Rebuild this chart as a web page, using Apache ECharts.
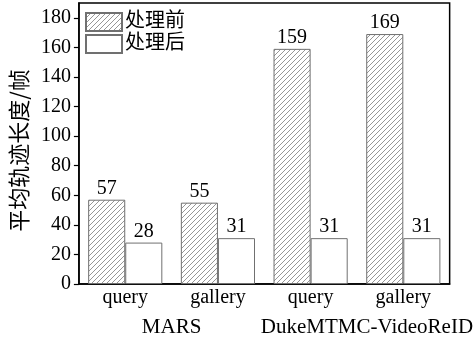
<!DOCTYPE html>
<html>
<head>
<meta charset="utf-8">
<script src="https://cdn.jsdelivr.net/npm/echarts@6/dist/echarts.min.js"></script>
<style>
  html, body { margin: 0; padding: 0; background: #fff; }
  #chart { width: 474px; height: 338px; }
</style>
</head>
<body>
<div id="chart"></div>
<script>
// Average trajectory length per dataset split, before and after processing
const categories = ['query', 'gallery', 'query', 'gallery'];
const groups = ['MARS', 'DukeMTMC-VideoReID'];
const before = [57, 55, 159, 169];
const after = [28, 31, 31, 31];
const seriesNames = ['处理前', '处理后'];
const yTicks = [0, 20, 40, 60, 80, 100, 120, 140, 160, 180];

const FONT = '"Liberation Serif", "Noto Sans CJK SC", serif';

// diagonal hatch tile
function hatchTile() {
  const s = 5;
  const c = document.createElement('canvas');
  c.width = s; c.height = s;
  const g = c.getContext('2d');
  g.fillStyle = '#fff';
  g.fillRect(0, 0, s, s);
  g.strokeStyle = '#8a8a8a';
  g.lineWidth = 0.9;
  g.beginPath();
  g.moveTo(-1, s + 1); g.lineTo(s + 1, -1);
  g.moveTo(-1, 1); g.lineTo(1, -1);
  g.moveTo(s - 1, s + 1); g.lineTo(s + 1, s - 1);
  g.stroke();
  return c;
}

const chart = echarts.init(document.getElementById('chart'));
const labelStyle = { show: true, position: 'top', distance: 1, fontSize: 20, color: '#000', fontFamily: FONT };

chart.setOption({
  animation: false,
  backgroundColor: '#fff',
  grid: { left: 72, right: 23, top: 3, bottom: 53, show: true, borderColor: '#000', borderWidth: 1.5 },
  legend: {
    left: 85, top: 12, orient: 'vertical', itemGap: 2, padding: 0,
    itemWidth: 36, itemHeight: 18, icon: 'rect',
    textStyle: { fontSize: 20, color: '#000', fontFamily: FONT, padding: [0, 0, 0, -2] },
    data: seriesNames
  },
  xAxis: [
    {
      type: 'category', data: categories, position: 'bottom',
      axisLine: { show: true, lineStyle: { color: '#000', width: 1.5 } },
      axisTick: { show: false },
      axisLabel: { fontSize: 20, color: '#000', fontFamily: FONT, margin: 4, interval: 0 }
    },
    {
      type: 'category', data: groups, position: 'bottom', offset: 30,
      axisLine: { show: false }, axisTick: { show: false },
      axisLabel: {
        fontSize: 21, color: '#000', fontFamily: FONT, margin: 3, interval: 0, hideOverlap: false,
        formatter: v => v === groups[1] ? '{b|' + v + '}' : v,
        rich: { b: { fontSize: 21, fontFamily: FONT, color: '#000', padding: [0, 0, 0, 20] } }
      }
    }
  ],
  yAxis: {
    type: 'value', min: 0, max: 190, interval: 20,
    name: '平均轨迹长度/帧', nameLocation: 'middle', nameGap: 46,
    nameTextStyle: { fontSize: 22, color: '#000', fontFamily: '"Noto Sans CJK SC", sans-serif', padding: [0, 14, 0, 0] },
    axisLine: { show: true, lineStyle: { color: '#000', width: 1.5 } },
    axisTick: { show: true, inside: false, length: 5, lineStyle: { color: '#000', width: 1.2 }, customValues: yTicks },
    axisLabel: { fontSize: 20, color: '#000', fontFamily: FONT, margin: 8, customValues: yTicks },
    splitLine: { show: false }
  },
  series: [
    {
      name: seriesNames[0], type: 'bar', data: before, barWidth: '40%', barGap: '0%',
      itemStyle: { color: { image: hatchTile(), repeat: 'repeat' }, borderColor: '#707070', borderWidth: 1 },
      label: labelStyle
    },
    {
      name: seriesNames[1], type: 'bar', data: after, barWidth: '40%', barGap: '0%',
      itemStyle: { color: '#fff', borderColor: '#707070', borderWidth: 1 },
      label: labelStyle
    }
  ]
});
</script>
</body>
</html>
